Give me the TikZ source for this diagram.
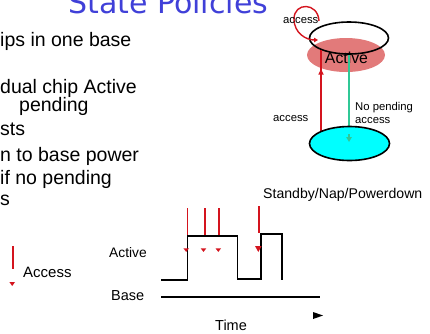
\documentclass[tikz,border=0pt]{standalone}
\usepackage{fontspec}
\setmainfont{Liberation Sans}
\newfontfamily\titlefont{DejaVu Sans}
\usetikzlibrary{arrows.meta,decorations.markings,shapes.geometric}
\definecolor{titleblue}{RGB}{64,64,216}
\definecolor{accred}{RGB}{212,20,30}
\definecolor{activefill}{RGB}{226,122,122}
\definecolor{nopend}{RGB}{48,200,150}
\definecolor{standbyfill}{RGB}{0,255,255}
\tikzset{
  bodytext/.style={anchor=base west, inner sep=0pt, font=\fontsize{19.5}{22}\selectfont},
  smalltext/.style={anchor=base west, inner sep=0pt, font=\fontsize{11.3}{13}\selectfont},
  midtext/.style={anchor=base west, inner sep=0pt, font=\fontsize{14.5}{16}\selectfont},
  accline/.style={draw=accred, line width=1.7pt},
  signal/.style={draw=black, line width=1.5pt},
}
\newcommand{\acctick}[4]{% x, top y, half width, height
  \fill[accred] (#1-#3,#2) -- (#1+#3,#2) -- (#1,#2+#4) -- cycle;}
\begin{document}
\begin{tikzpicture}[x=1pt,y=-1pt]
\useasboundingbox (0,0) rectangle (430,333);

% title
\node[anchor=base west, inner sep=0pt, text=titleblue,
      font=\titlefont\fontsize{30}{32}\selectfont] (title) at (68,13) {State Policies};

% bullet text
\node[bodytext] (l1) at (0,46)  {ips in one base};
\node[bodytext] (l2) at (0,93)  {dual chip Active};
\node[bodytext] (l3) at (19,111) {pending};
\node[bodytext] (l4) at (0,135) {sts};
\node[bodytext] (l5) at (0,161) {n to base power};
\node[bodytext] (l6) at (0,184) {if no pending};
\node[bodytext] (l7) at (0,205) {s};

% state diagram
\node[ellipse, fill=activefill, minimum width=78pt, minimum height=34pt, inner sep=0pt]
  (activebg) at (346,55) {};
\node[ellipse, draw, line width=1.6pt, minimum width=79pt, minimum height=32pt, inner sep=0pt]
  (active) at (349,38) {};
\node[anchor=base, inner sep=0pt, font=\fontsize{15.8}{18}\selectfont] (activelbl) at (346.5,63) {Active};

\coordinate (accbot) at (321,135);
\coordinate (acctop) at (321,50);
\coordinate (loopstart) at (319,21);
\coordinate (loopend) at (318,40);
\coordinate (sleeptip) at (349,142);

\draw[accline, postaction={decorate},
      decoration={markings, mark=at position 0.78 with {\arrow{Triangle[width=5pt,length=6pt]}}}]
  (accbot) -- (acctop);
\draw[accred, line width=1.4pt, -{Triangle[width=4.5pt,length=4pt]}]
  (loopstart) .. controls (318,2) and (294,2) .. (294,19) .. controls (294,33) and (306,40) .. (loopend);
\draw[nopend, line width=1.5pt] (active.south) -- (sleeptip);

\node[ellipse, draw, fill=standbyfill, line width=1.6pt, minimum width=80pt, minimum height=34pt, inner sep=0pt]
  (standby) at (349.5,143.5) {};
\draw[nopend, line width=1.5pt, -{Triangle[width=5.5pt,length=5pt]}] (349,134) -- (sleeptip);

\node[smalltext] (looplbl) at (283,23) {access};
\node[smalltext] (uplbl) at (273,121) {access};
\node[smalltext] (downlbl1) at (355,110) {No pending};
\node[smalltext] (downlbl2) at (355,123) {access};
\node[midtext, font=\fontsize{14.1}{16}\selectfont] (statelbl) at (263,198) {Standby/Nap/Powerdown};

% timing diagram
\draw[signal] (161,280) -- (187.7,280) -- (187.7,236) -- (237.7,236) -- (237.7,279)
  -- (261,279) -- (261,234) -- (282,234) -- (282,279.5);
\draw[signal] (161,297) -- (320,297);
\fill (313,312) -- (323,315.5) -- (313,319) -- cycle;

\draw[accline] (187.5,208) -- (187.5,235);
\draw[accline] (205,208) -- (205,235);
\draw[accline] (219.3,208) -- (219.3,235);
\draw[accline] (259.3,206) -- (259.3,233);
\acctick{186.2}{248.3}{2.8}{3.6}
\acctick{203.5}{248.3}{2.8}{3.6}
\acctick{218.3}{248.3}{2.8}{3.6}
\acctick{258.3}{246}{3.3}{6}

\node[midtext, font=\fontsize{13.8}{16}\selectfont] (activetl) at (109,257) {Active};
\node[midtext] (basetl) at (111,300) {Base};
\node[midtext] (timetl) at (215,330) {Time};

% legend
\draw[accline] (13.3,246) -- (13.3,269);
\acctick{12.2}{282}{2.8}{4}
\node[midtext, font=\fontsize{15}{17}\selectfont] (acclegend) at (23,277) {Access};
\end{tikzpicture}
\end{document}
